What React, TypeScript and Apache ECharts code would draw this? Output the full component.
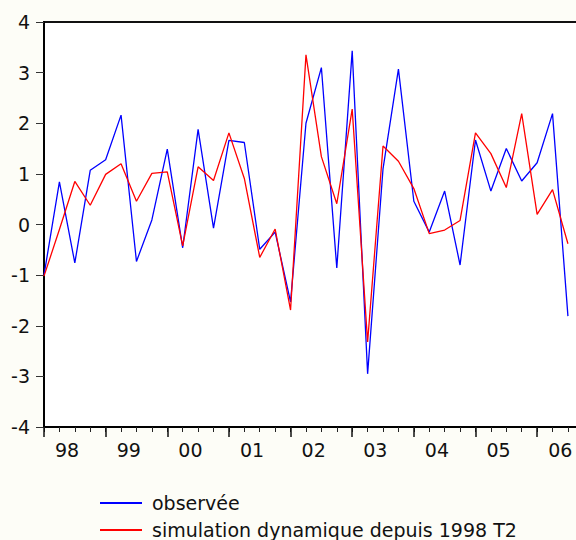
import React, { useEffect, useRef } from 'react';
import * as echarts from 'echarts';

// Quarterly sample: 1998 T1 .. 2006 T3
const years = [1998, 1999, 2000, 2001, 2002, 2003, 2004, 2005, 2006];
const yearLabels = ['98', '99', '00', '01', '02', '03', '04', '05', '06'];
const quarterLabels: string[] = [];
years.forEach((y) => {
  for (let q = 1; q <= 4; q++) quarterLabels.push(`${y} T${q}`);
});
const nObs = 35;
const quarters = quarterLabels.slice(0, nObs);

const observee = [
  -1.0, 0.84, -0.76, 1.07, 1.28, 2.16, -0.73, 0.09, 1.49, -0.46, 1.88, -0.07,
  1.66, 1.62, -0.49, -0.15, -1.53, 2.0, 3.1, -0.86, 3.43, -2.95, 1.1, 3.07,
  0.46, -0.15, 0.66, -0.8, 1.67, 0.66, 1.5, 0.86, 1.22, 2.19, -1.81,
];

const simulation = [
  -1.02, -0.1, 0.85, 0.38, 0.99, 1.2, 0.46, 1.01, 1.04, -0.42, 1.14, 0.87,
  1.81, 0.91, -0.65, -0.09, -1.69, 3.35, 1.34, 0.41, 2.28, -2.32, 1.55, 1.25,
  0.71, -0.18, -0.11, 0.08, 1.81, 1.4, 0.73, 2.19, 0.2, 0.69, -0.38,
];

const seriesNames = ['observée', 'simulation dynamique depuis 1998 T2'];
const FONT = '"DejaVu Sans", sans-serif';
const STEP = 15.41;
const CHART_W = 600;
const CHART_H = 600;

export default function App() {
  const ref = useRef<HTMLDivElement>(null);

  useEffect(() => {
    if (!ref.current) return;
    const chart = echarts.init(ref.current, null, { renderer: 'svg' });
    const xMax = nObs;
    const gridW = xMax * STEP;
    chart.setOption({
      animation: false,
      backgroundColor: '#fdfdf7',
      grid: {
        left: 44,
        top: 22,
        width: gridW,
        height: 405,
        show: true,
        backgroundColor: '#ffffff',
        borderColor: '#111111',
        borderWidth: 2,
      },
      xAxis: [
        {
          type: 'value',
          min: 0,
          max: xMax,
          interval: 1,
          position: 'bottom',
          axisLine: { show: true, onZero: false, lineStyle: { color: '#000', width: 2 } },
          axisTick: { show: true, length: 5, lineStyle: { color: '#222', width: 1 } },
          axisLabel: { show: false },
          splitLine: { show: false },
        },
        {
          type: 'value',
          min: 0,
          max: xMax,
          interval: 4,
          position: 'bottom',
          axisLine: { show: false, onZero: false },
          axisTick: { show: true, length: 10, lineStyle: { color: '#111', width: 1.5 } },
          axisLabel: { show: false },
          splitLine: { show: false },
        },
        {
          type: 'category',
          data: quarters,
          boundaryGap: true,
          position: 'bottom',
          axisLine: { show: false, onZero: false },
          axisTick: { show: false },
          axisLabel: {
            interval: (i: number) => i % 4 === 1,
            formatter: (_v: string, i: number) => yearLabels[Math.floor(i / 4)],
            margin: 13,
            fontSize: 19,
            fontFamily: FONT,
            color: '#111',
          },
          splitLine: { show: false },
        },
      ],
      yAxis: {
        type: 'value',
        min: -4,
        max: 4,
        interval: 1,
        axisLine: { show: true, lineStyle: { color: '#000', width: 2 } },
        axisTick: { show: true, length: 8, lineStyle: { color: '#333', width: 1 } },
        axisLabel: { margin: 14, fontSize: 19, fontFamily: FONT, color: '#111' },
        splitLine: { show: false },
      },
      legend: {
        orient: 'vertical',
        left: 100,
        top: 489.5,
        padding: 0,
        itemWidth: 42,
        itemHeight: 2,
        itemGap: 0,
        icon: 'rect',
        selectedMode: false,
        textStyle: {
          fontSize: 19,
          fontFamily: FONT,
          color: '#111',
          lineHeight: 27,
          padding: [0, 0, 0, 5],
        },
        data: seriesNames,
      },
      series: [
        {
          name: seriesNames[0],
          type: 'line',
          xAxisIndex: 0,
          yAxisIndex: 0,
          symbol: 'none',
          color: '#0000ff',
          lineStyle: { color: '#0000ff', width: 1.3 },
          data: observee.map((v, i) => [i, v]),
        },
        {
          name: seriesNames[1],
          type: 'line',
          xAxisIndex: 0,
          yAxisIndex: 0,
          symbol: 'none',
          color: '#ff0000',
          lineStyle: { color: '#ff0000', width: 1.3 },
          data: simulation.map((v, i) => [i, v]),
        },
      ],
    });
    return () => chart.dispose();
  }, []);

  return (
    <div
      style={{
        position: 'fixed',
        left: 0,
        top: 0,
        width: 576,
        height: 540,
        overflow: 'hidden',
        background: '#fdfdf7',
      }}
    >
      <div ref={ref} style={{ width: CHART_W, height: CHART_H }} />
    </div>
  );
}
